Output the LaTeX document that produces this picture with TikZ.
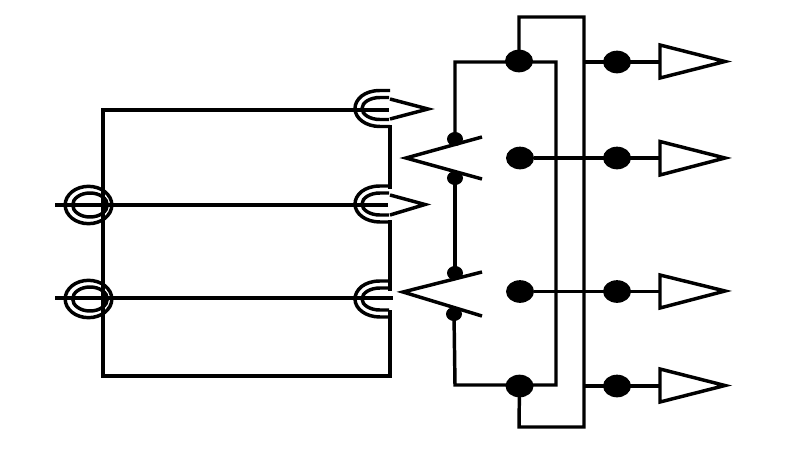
\documentclass[tikz,border=0pt]{standalone}
\usetikzlibrary{shapes.geometric}
\tikzset{
  x=0.75pt,y=-0.75pt,
  wire/.style={line width=2.6pt,black,line join=miter,line cap=butt},
  thinwire/.style={line width=2.4pt,black},
  bigdot/.style={ellipse,fill=black,inner sep=0pt,minimum width=21pt,minimum height=17pt},
  smalldot/.style={ellipse,fill=black,inner sep=0pt,minimum width=12pt,minimum height=10.5pt},
  ringout/.style={ellipse,draw=black,line width=2.6pt,inner sep=0pt,minimum width=35pt,minimum height=28pt},
  ringin/.style={ellipse,draw=black,line width=2.6pt,inner sep=0pt,minimum width=26pt,minimum height=18pt},
  cupshape/.pic={
    \draw[wire] (0,-18) -- (-10,-18) .. controls (-26,-18) and (-35,-9) .. (-35,0) .. controls (-35,10) and (-24,18) .. (-10,18) -- (0,18);
    \draw[wire] (-1,-11) -- (-10,-11) .. controls (-20,-11) and (-28,-6) .. (-28,0) .. controls (-28,6) and (-20,11) .. (-10,11) -- (-1,11);
  }
}
\begin{document}
\begin{tikzpicture}
\useasboundingbox (0,0) rectangle (800,450);
\fill[white] (0,0) rectangle (800,450);

% left frame
\coordinate (tl) at (103,110);
\coordinate (bl) at (103,376);
\coordinate (br) at (390,376);
\coordinate (c1) at (375,110);
\coordinate (c1a) at (390,125);
\coordinate (c2t) at (390,189);
\coordinate (c2b) at (390,220);
\coordinate (c3t) at (390,291);
\coordinate (c3b) at (390,310);
\draw[wire] (c1) -- (tl) -- (bl) -- (br) -- (c3b);
\draw[wire] (c1a) -- (c2t);
\draw[wire] (c2b) -- (c3t);

% input rings
\node[ringout] (ra) at (88.5,205) {};
\node[ringin] (rai) at (90,205) {};
\node[ringout] (rb) at (88.5,299) {};
\node[ringin] (rbi) at (90,299) {};
\coordinate (la) at (55,205);
\coordinate (lb) at (55,298);
\coordinate (ea) at (388,205);
\coordinate (eb) at (393,298);
\coordinate (ec) at (389,110);
\draw[wire] (la) -- (ea);
\draw[wire] (lb) -- (eb);
\draw[wire] (c1) -- (ec);

% cups and their pointed tips
\pic at (390,108.5) {cupshape};
\pic at (390,204) {cupshape};
\pic at (390,299) {cupshape};
\draw[wire] (390,99) -- (428,109) -- (390,119);
\draw[wire] (390,195) -- (425,204.5) -- (390,215);

% switches
\node[smalldot] (s1) at (455,139) {};
\node[smalldot] (s2) at (455,178) {};
\node[smalldot] (s3) at (455,273) {};
\node[smalldot] (s4) at (454,314) {};
\draw[wire] (482,137) -- (406,158) -- (482,179);
\draw[wire] (482,272) -- (403,292) -- (482,316);

% big dots
\node[bigdot] (d1) at (519,61) {};
\node[bigdot] (d2) at (520,158) {};
\node[bigdot] (d3) at (520,291.5) {};
\node[bigdot] (d4) at (519.5,386) {};
\node[bigdot] (o1) at (617,62) {};
\node[bigdot] (o2) at (617,158) {};
\node[bigdot] (o3) at (617,291.5) {};
\node[bigdot] (o4) at (617,386) {};

% wiring
\coordinate (n1) at (455,62);
\coordinate (n2) at (556,62);
\coordinate (n3) at (556,385);
\coordinate (n4) at (455,385);
\draw[wire] (s1.center) -- (n1) -- (n2) -- (n3) -- (n4) -- (s4.center);
\draw[thinwire] (s2.center) -- (s3.center);
\coordinate (p1) at (519,17);
\coordinate (p2) at (584,17);
\coordinate (p3) at (584,427);
\coordinate (p4) at (519,427);
\draw[wire] (d1.center) -- (p1) -- (p2) -- (p3) -- (p4) -- (d4.center);

% outputs
\coordinate (t1) at (660,62);
\coordinate (t2) at (660,158);
\coordinate (t3) at (660,291.5);
\coordinate (t4) at (660,386);
\coordinate (b1) at (584,62);
\coordinate (b4) at (584,386);
\draw[thinwire] (b1) -- (t1);
\draw[thinwire] (d2) -- (t2);
\draw[thinwire] (d3) -- (t3);
\draw[thinwire] (b4) -- (t4);

\draw[wire] (660,45) -- (725,61.5) -- (660,78) -- cycle;
\draw[wire] (660,141.5) -- (725,158) -- (660,175) -- cycle;
\draw[wire] (660,275) -- (725,291) -- (660,308) -- cycle;
\draw[wire] (660,369) -- (725,385.5) -- (660,402) -- cycle;
\end{tikzpicture}
\end{document}
